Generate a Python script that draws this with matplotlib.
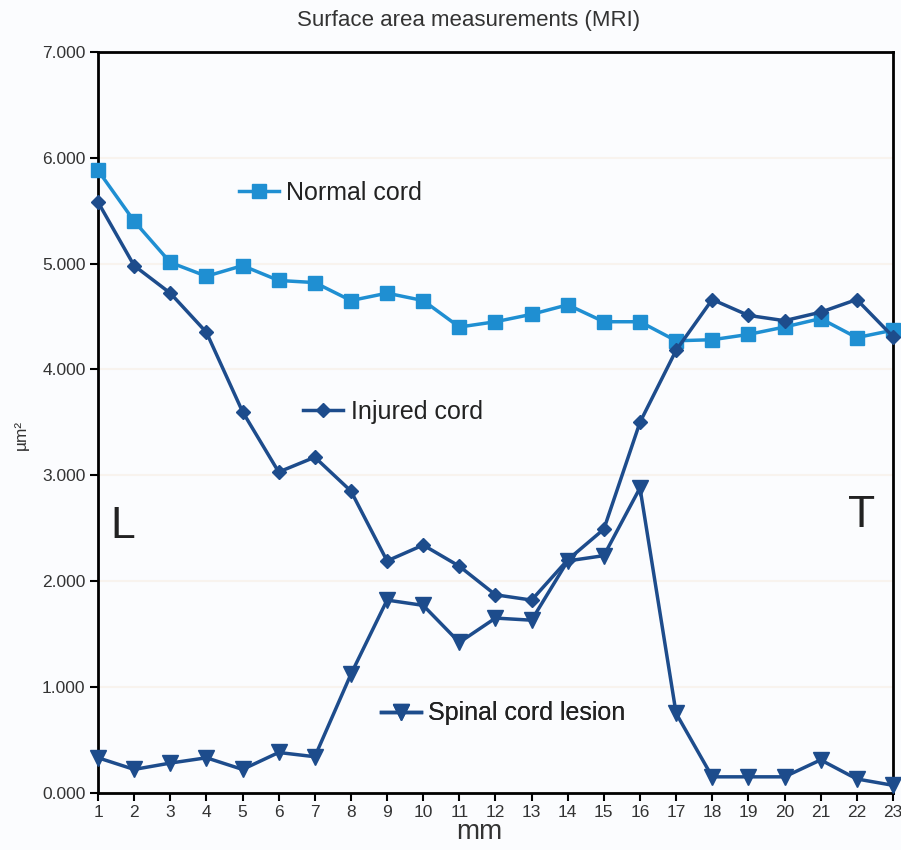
import matplotlib.pyplot as plt
from matplotlib.lines import Line2D

plt.rcParams['font.family'] = ['Liberation Sans', 'DejaVu Sans']

mm = list(range(1, 24))
normal_cord = [5.88, 5.40, 5.01, 4.88, 4.98, 4.84, 4.82, 4.65, 4.72, 4.65, 4.40, 4.45,
               4.52, 4.61, 4.45, 4.45, 4.27, 4.28, 4.33, 4.40, 4.48, 4.30, 4.37]
injured_cord = [5.58, 4.98, 4.72, 4.35, 3.60, 3.03, 3.17, 2.85, 2.19, 2.34, 2.14, 1.87,
                1.82, 2.20, 2.49, 3.50, 4.18, 4.66, 4.51, 4.46, 4.54, 4.66, 4.31]
lesion = [0.33, 0.22, 0.28, 0.33, 0.22, 0.38, 0.34, 1.12, 1.82, 1.77, 1.42, 1.65,
          1.63, 2.19, 2.24, 2.88, 0.75, 0.15, 0.15, 0.15, 0.31, 0.13, 0.07]
y_ticks = [0, 1, 2, 3, 4, 5, 6, 7]

light = '#1f8fd2'
dark = '#1d4c8c'
txt = '#333333'

fig = plt.figure(figsize=(9.01, 8.5), dpi=100, facecolor='#fbfcfe')
ax = fig.add_axes([0.1088, 0.0674, 0.8822, 0.8716])
ax.set_facecolor('#fbfcfe')

ax.plot(mm, normal_cord, color=light, lw=2.5, marker='s', ms=10, clip_on=False, zorder=3)
ax.plot(mm, injured_cord, color=dark, lw=2.5, marker='D', ms=7.5, clip_on=False, zorder=4)
ax.plot(mm, lesion, color=dark, lw=2.5, marker='v', ms=11.5, clip_on=False, zorder=4)

ax.set_xlim(1, 23)
ax.set_ylim(0, 7)
ax.set_xticks(mm)
ax.set_yticks(y_ticks)
ax.set_yticklabels(['{:.3f}'.format(v) for v in y_ticks])
ax.tick_params(direction='out', length=6, width=1.5, labelsize=12.5, colors='black',
               labelcolor=txt, pad=3)
ax.grid(axis='y', color='#f8f3ee', lw=1.5)
for s in ax.spines.values():
    s.set_linewidth(2)
    s.set_color('black')

ax.set_xlabel('mm', fontsize=20, color=txt, labelpad=0)
ax.xaxis.set_label_coords(0.48, -0.035)
ax.set_ylabel('µm²', fontsize=12.5, color=txt, va='center')
ax.yaxis.set_label_coords(-0.096, 0.483)
fig.text(0.52, 0.976, 'Surface area measurements (MRI)', ha='center', va='center',
         fontsize=16, color=txt)

ax.text(0.016, 0.36, 'L', transform=ax.transAxes, fontsize=32, color='#222222', va='center')
ax.text(0.944, 0.374, 'T', transform=ax.transAxes, fontsize=32, color='#222222', va='center')

# in-plot labels
keys = [
    (light, 's', 10, 'Normal cord', (0.177, 0.81)),
    (dark, 'D', 7.5, 'Injured cord', (0.258, 0.514)),
    (dark, 'v', 11.5, 'Spinal cord lesion', (0.356, 0.107)),
]
for col, mk, ms, lab, pos in keys:
    h = Line2D([], [], color=col, lw=2.5, marker=mk, ms=ms)
    leg = ax.legend([h], [lab], loc='center left', bbox_to_anchor=pos, frameon=False,
                    fontsize=18, handlelength=1.6, handletextpad=0.3, borderpad=0,
                    borderaxespad=0, labelcolor='#222222')
    ax.add_artist(leg)

fig.savefig('out.png', dpi=100, facecolor=fig.get_facecolor())
